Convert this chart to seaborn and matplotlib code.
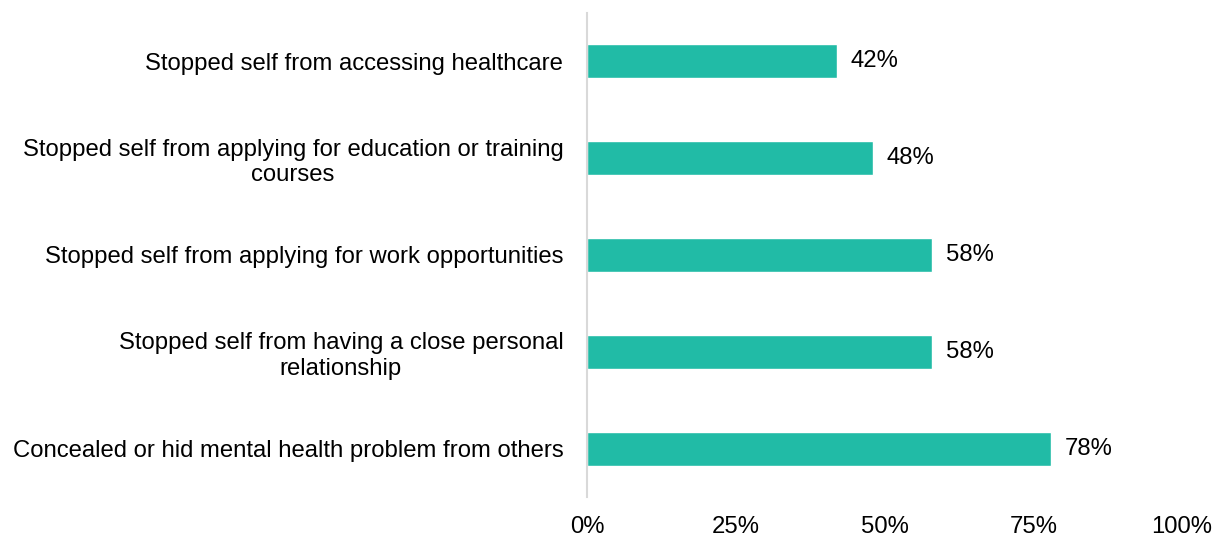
import matplotlib
matplotlib.use("Agg")
import matplotlib.pyplot as plt
import seaborn as sns
import pandas as pd

categories = [
    "Stopped self from accessing healthcare",
    "Stopped self from applying for education or training\ncourses",
    "Stopped self from applying for work opportunities",
    "Stopped self from having a close personal\nrelationship",
    "Concealed or hid mental health problem from others",
]
values = [42, 48, 58, 58, 78]
tick_values = [0, 25, 50, 75, 100]
tick_labels = ["0%", "25%", "50%", "75%", "100%"]

sns.set_theme(style="white")
plt.rcParams["font.family"] = ["Liberation Sans", "DejaVu Sans"]

FS = 17.2
df = pd.DataFrame({"category": categories, "value": values})

fig = plt.figure(figsize=(12.19, 5.37), dpi=100)
ax = fig.add_axes([0.4815, 0.0736, 0.4882, 0.9031])

sns.barplot(data=df, x="value", y="category", orient="h",
            color="#21BBA6", saturation=1, width=0.36, ax=ax)

for container in ax.containers:
    ax.bar_label(container, labels=[f"{v}%" for v in values],
                 padding=10, fontsize=FS, color="#000000")

ax.set_xlim(0, 100)
ax.set_ylim(4.5, -0.5)
ax.set_xticks(tick_values)
ax.set_xticklabels(tick_labels, fontsize=FS, color="#000000")
ax.set_xlabel("")
ax.set_ylabel("")
ax.tick_params(axis="x", length=0, pad=13)
ax.tick_params(axis="y", length=0, pad=17, labelsize=FS, labelcolor="#000000")
for lbl in ax.get_yticklabels():
    lbl.set_multialignment("center")

for side in ["top", "right", "bottom"]:
    ax.spines[side].set_visible(False)
ax.spines["left"].set_color("#D9D9D9")
ax.spines["left"].set_linewidth(1.5)

fig.savefig("out.png", dpi=100, facecolor="white")
